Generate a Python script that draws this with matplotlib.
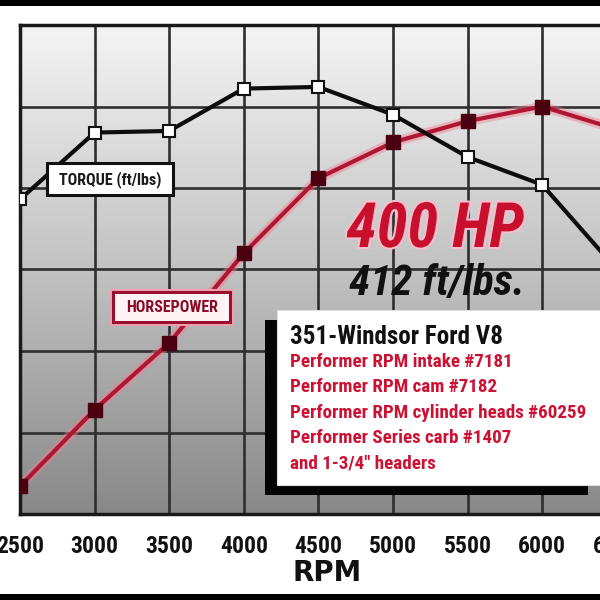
import numpy as np
import matplotlib
matplotlib.use("Agg")
import matplotlib.pyplot as plt
from matplotlib import font_manager as fm
from matplotlib.patches import Rectangle
from matplotlib.colors import LinearSegmentedColormap
import matplotlib.patheffects as pe

# ---------------- data ----------------
rpm = [2500, 3000, 3500, 4000, 4500, 5000, 5500, 6000, 6500]
torque = [343, 384, 385, 411, 412, 395, 369, 352, 300]
horsepower = [167, 214, 255, 310, 356, 378, 391, 400, 386]
tick_labels = ["2500", "3000", "3500", "4000", "4500", "5000", "5500", "6000", "6500"]
headline_hp = "400 HP"
headline_tq = "412 ft/lbs."
info_title = "351-Windsor Ford V8"
info_lines = ["Performer RPM intake #7181",
              "Performer RPM cam #7182",
              "Performer RPM cylinder heads #60259",
              "Performer Series carb #1407",
              "and 1-3/4\" headers"]


def pick(cands):
    for c in cands:
        try:
            fm.findfont(fm.FontProperties(family=c), fallback_to_default=False)
            return c
        except Exception:
            pass
    return "DejaVu Sans"


NARROW = pick(["Liberation Sans Narrow", "DejaVu Sans Condensed", "Roboto Condensed"])
WIDE = "DejaVu Sans"

W = H = 600.0
fig = plt.figure(figsize=(6, 6), dpi=100)
fig.patch.set_facecolor("white")


def fx(x):
    return x / W


def fy(y):
    return 1 - y / H


# axes: left 20px, top 25px, bottom 514px; 500 rpm = 74.6 px
x0, ytop, ybot = 20, 25, 514
xmax = 6700
width_px = (xmax - 2500) / 500 * 74.6
ax = fig.add_axes([fx(x0), fy(ybot), width_px / W, (ybot - ytop) / H])
ax.set_xlim(2500, xmax)
ax.set_ylim(150, 450)

# gradient background
grad = np.linspace(0, 1, 256).reshape(-1, 1)
cmap = LinearSegmentedColormap.from_list("bg", ["#888888", "#c2c2c2", "#f4f4f4"])
ax.imshow(grad, aspect="auto", cmap=cmap, origin="lower",
          extent=[2500, xmax, 150, 450], zorder=0)

ax.set_xticks(rpm)
ax.set_xticklabels(tick_labels, fontsize=17, fontweight="bold", family=NARROW,
                   color="#111111")
ax.set_yticks([150, 200, 250, 300, 350, 400, 450])
ax.tick_params(axis="x", length=0, pad=15)
ax.tick_params(axis="y", length=0, labelleft=False)
ax.grid(True, color="#2e2e2e", lw=1.9, zorder=1)
for s in ax.spines.values():
    s.set_color("#1a1a1a")
    s.set_linewidth(2.5)

# horsepower line with glow
ax.plot(rpm, horsepower, color="#f08090", lw=7, alpha=0.45, zorder=2,
        solid_capstyle="round")
ax.plot(rpm, horsepower, color="#b01535", lw=3, zorder=3)
ax.plot(rpm, horsepower, ls="none", marker="s", ms=10, mfc="#4a0010",
        mec="#4a0010", zorder=4)
# torque line
ax.plot(rpm, torque, color="#0d0d0d", lw=3, zorder=3)
ax.plot(rpm, torque, ls="none", marker="s", ms=9, mfc="white", mec="#111111",
        mew=1.5, zorder=4)

# labels for curves
fig.patches.append(Rectangle((fx(47), fy(195)), 126 / W, 32 / H,
                             transform=fig.transFigure, facecolor="white",
                             edgecolor="#111111", lw=2.2, zorder=5))
fig.text(fx(110), fy(180), "TORQUE (ft/lbs)", ha="center", va="center",
         fontsize=11.5, fontweight="bold", family=NARROW, color="#1a1a1a", zorder=6)

fig.patches.append(Rectangle((fx(113), fy(322)), 117 / W, 30 / H,
                             transform=fig.transFigure, facecolor="#fdf3f5",
                             edgecolor="#9a1030", lw=2.2, zorder=5,
                             path_effects=[pe.withStroke(linewidth=5, foreground="#f2a0b0")]))
fig.text(fx(172), fy(307), "HORSEPOWER", ha="center", va="center",
         fontsize=11.5, fontweight="bold", family=NARROW, color="#8a0a25", zorder=6)

# headline
fig.text(fx(435), fy(230), headline_hp, ha="center", va="center", fontsize=45,
         fontweight="bold", style="italic", family=NARROW, color="#c8102e",
         zorder=6, path_effects=[pe.withStroke(linewidth=3, foreground="#f5c0cb")])
fig.text(fx(437), fy(283), headline_tq, ha="center", va="center", fontsize=31,
         fontweight="bold", style="italic", family=NARROW, color="#111111", zorder=6)

# info box with shadow
fig.patches.append(Rectangle((fx(265), fy(495)), 323 / W, 175 / H,
                             transform=fig.transFigure, facecolor="#050505",
                             edgecolor="none", zorder=5))
fig.patches.append(Rectangle((fx(277), fy(485)), 330 / W, 175 / H,
                             transform=fig.transFigure, facecolor="white",
                             edgecolor="#dddddd", lw=0.8, zorder=6))
fig.text(fx(290), fy(337), info_title, ha="left", va="center", fontsize=18,
         fontweight="bold", family=NARROW, color="#111111", zorder=7)
for i, line in enumerate(info_lines):
    fig.text(fx(290), fy(362 + i * 25.3), line, ha="left", va="center",
             fontsize=13.7, fontweight="bold", family=NARROW, color="#cc1133", zorder=7)

# axis title
fig.text(fx(327), fy(573), "RPM", ha="center", va="center", fontsize=20,
         fontweight="bold", family=WIDE, color="#111111")

# black frame bands
fig.patches.append(Rectangle((0, fy(6)), 1, 6 / H, transform=fig.transFigure,
                             facecolor="black", zorder=10))
fig.patches.append(Rectangle((0, 0), 1, 6 / H, transform=fig.transFigure,
                             facecolor="black", zorder=10))

fig.savefig("out.png", dpi=100)
